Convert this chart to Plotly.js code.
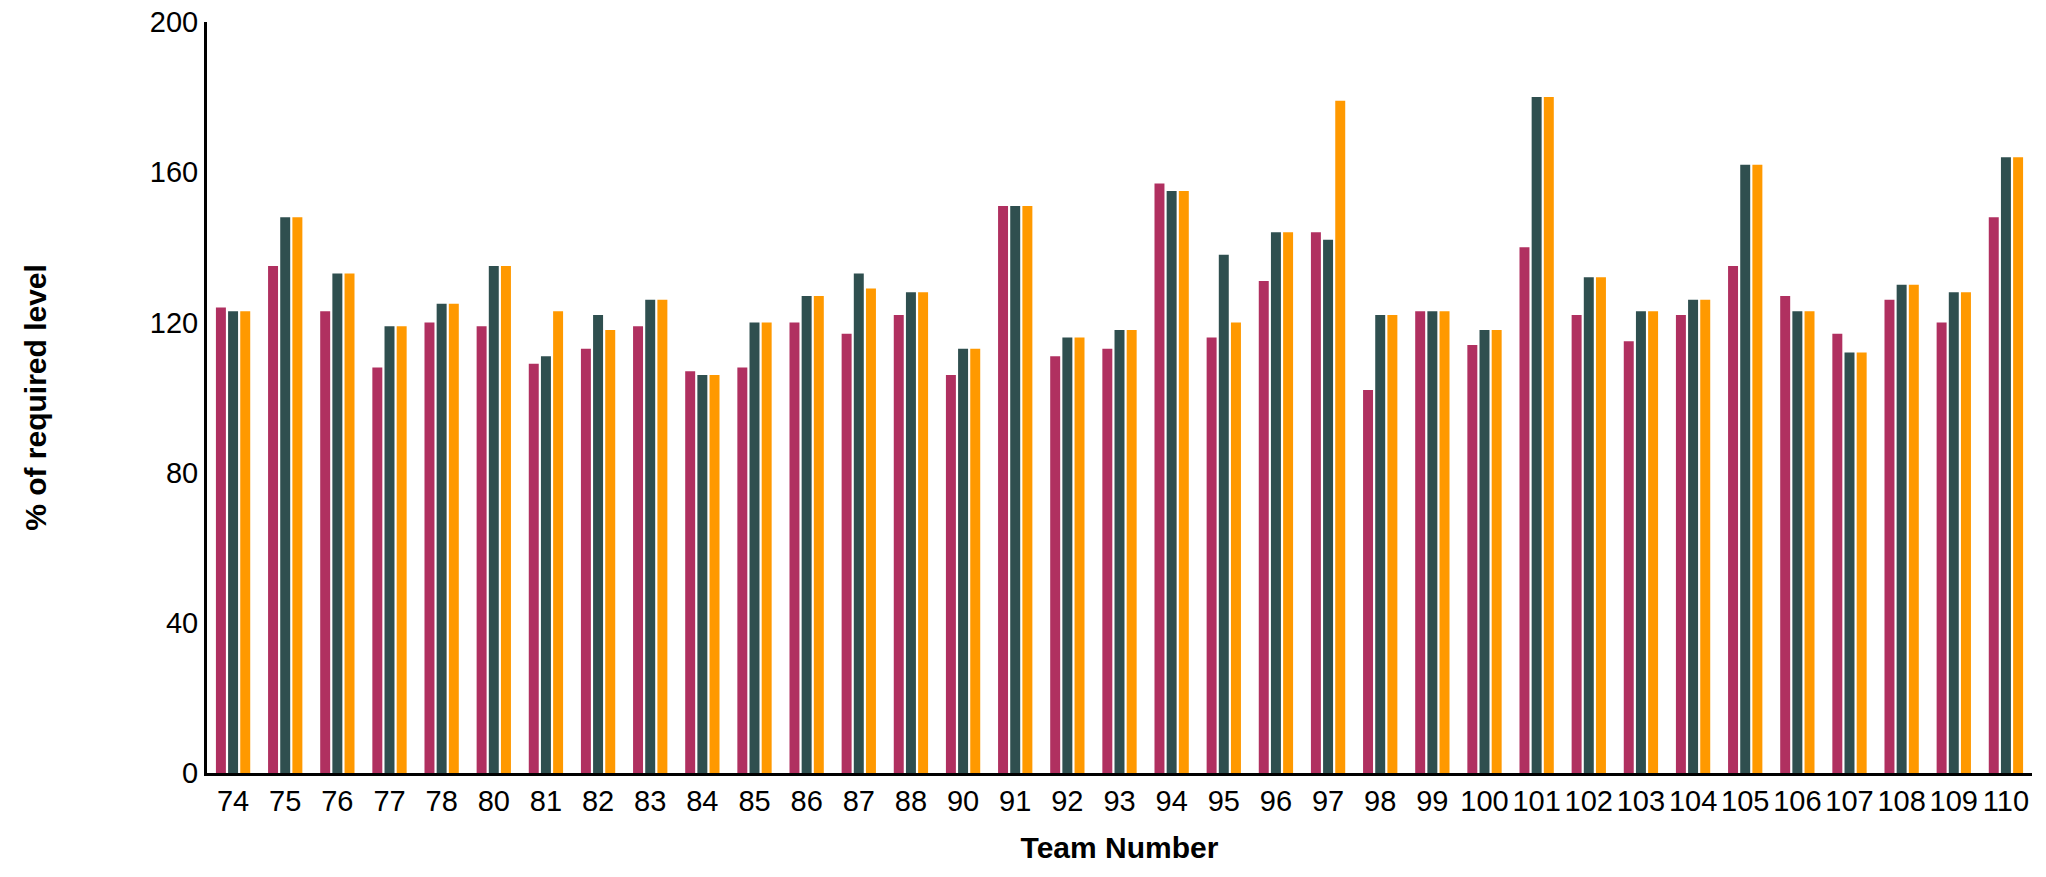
<!DOCTYPE html>
<html>
<head>
<meta charset="utf-8">
<script src="https://cdn.plot.ly/plotly-3.0.1.min.js"></script>
<style>body{margin:0;background:#fff}#chart{width:2046px;height:877px}</style>
</head>
<body>
<div id="chart"></div>
<script>
// team numbers as printed on the axis
const teams = ['74','75','76','77','78','80','81','82','83','84','85','86','87','88','90','91','92','93','94','95','96','97','98','99','100','101','102','103','104','105','106','107','108','109','110'];
const seriesA = [124,135,123,108,120,119,109,113,119,107,108,120,117,122,106,151,111,113,157,116,131,144,102,123,114,140,122,115,122,135,127,117,126,120,148];
const seriesB = [123,148,133,119,125,135,111,122,126,106,120,127,133,128,113,151,116,118,155,138,144,142,122,123,118,180,132,123,126,162,123,112,130,128,164];
const seriesC = [123,148,133,119,125,135,123,118,126,106,120,127,129,128,113,151,116,118,155,120,144,179,122,123,118,180,132,123,126,162,123,112,130,128,164];

const colors = ['#B03060', '#2F4F4F', '#FF9900'];

const traces = [seriesA, seriesB, seriesC].map((vals, i) => ({
    x: teams,
    y: vals,
    type: 'bar',
    marker: {color: colors[i]},
    hoverinfo: 'x+y'
}));

const layout = {
    width: 2046,
    height: 877,
    margin: {l: 207, r: 14, t: 22, b: 104},
    paper_bgcolor: '#fff',
    plot_bgcolor: '#fff',
    showlegend: false,
    barmode: 'group',
    bargap: 0.3,
    bargroupgap: 0.18,
    font: {family: 'Liberation Sans, Arial, sans-serif', color: '#000', size: 29},
    xaxis: {
        type: 'category',
        showline: true,
        linecolor: '#000',
        linewidth: 3,
        ticks: '',
        tickfont: {size: 29},
        tickangle: 0,
        title: {text: 'Team Number', font: {size: 30, weight: 'bold'}, standoff: 22}
    },
    yaxis: {
        range: [0, 200],
        tickvals: [0, 40, 80, 120, 160, 200],
        showgrid: false,
        zeroline: false,
        showline: true,
        linecolor: '#000',
        linewidth: 3,
        ticks: '',
        tickfont: {size: 29},
        title: {text: '% of required level', font: {size: 30, weight: 'bold'}, standoff: 95}
    }
};

Plotly.newPlot('chart', traces, layout, {displayModeBar: false});
</script>
</body>
</html>
